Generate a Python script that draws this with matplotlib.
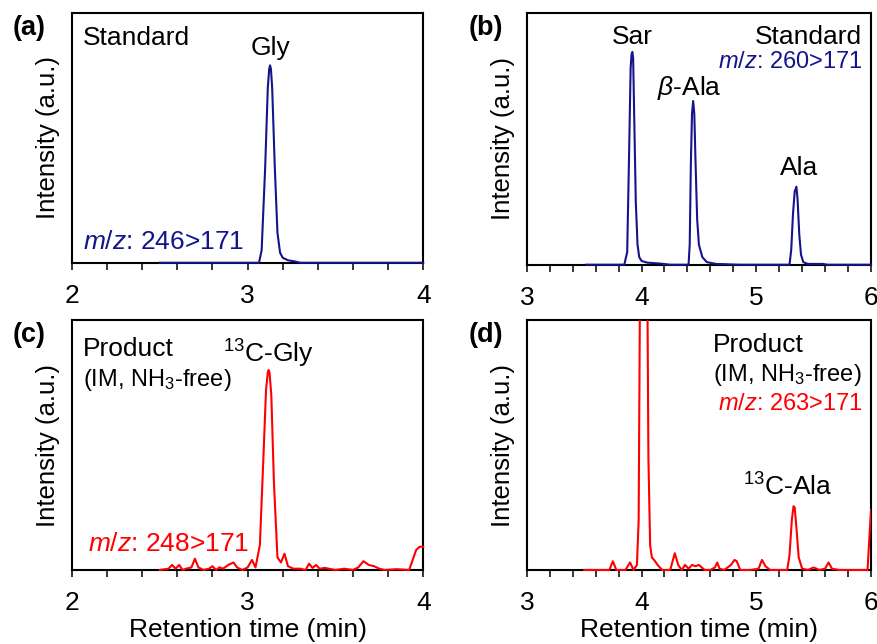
"""
LC-MS/MS chromatograms: standards vs. 13C product
"""
import matplotlib
matplotlib.use("Agg")
import matplotlib.pyplot as plt
from matplotlib.patches import Rectangle

plt.rcParams["font.family"] = ["Liberation Sans", "DejaVu Sans"]
plt.rcParams["mathtext.fontset"] = "custom"
plt.rcParams["mathtext.rm"] = "Liberation Sans"
plt.rcParams["mathtext.it"] = "Liberation Sans:italic"

BLUE = "#14148c"
RED = "#ff0000"

# (a) standard, m/z 246>171
a_time = [2.50, 3.00, 3.065, 3.08, 3.10, 3.115, 3.123, 3.128, 3.133, 3.14, 3.155,
          3.17, 3.185, 3.20, 3.23, 3.27, 3.30, 4.00]
a_signal = [0.0, 0.0, 0.0, 0.05, 0.38, 0.70, 0.775, 0.79, 0.775, 0.70, 0.38,
            0.12, 0.04, 0.02, 0.01, 0.005, 0.0, 0.0]

# (b) standard, m/z 260>171
b_time = [3.52, 3.85, 3.875, 3.89, 3.905, 3.913, 3.92, 3.927, 3.935, 3.95, 3.965,
          3.98, 4.00, 4.05, 4.15, 4.25, 4.41, 4.42, 4.43, 4.44, 4.45, 4.46, 4.47,
          4.485, 4.50, 4.53, 4.57, 4.65, 4.85, 5.29, 5.305, 5.32, 5.335, 5.35,
          5.36, 5.375, 5.39, 5.41, 5.45, 5.58, 5.62, 6.00]
b_signal = [0.0, 0.0, 0.05, 0.40, 0.78, 0.835, 0.845, 0.82, 0.62, 0.25, 0.08,
            0.03, 0.015, 0.008, 0.005, 0.0, 0.0, 0.08, 0.40, 0.60, 0.65, 0.60,
            0.42, 0.18, 0.08, 0.03, 0.01, 0.003, 0.0, 0.0, 0.06, 0.20, 0.29,
            0.31, 0.26, 0.12, 0.04, 0.01, 0.003, 0.003, 0.0, 0.0]

# (c) product, m/z 248>171
c_time = [2.50, 2.55, 2.57, 2.59, 2.61, 2.63, 2.65, 2.68, 2.70, 2.72, 2.75,
          2.78, 2.80, 2.82, 2.84, 2.86, 2.89, 2.92, 2.94, 2.97, 3.00, 3.025,
          3.045, 3.07, 3.09, 3.105, 3.115, 3.12, 3.125, 3.135, 3.15, 3.17, 3.19,
          3.21, 3.23, 3.26, 3.30, 3.33, 3.35, 3.37, 3.39, 3.41, 3.44, 3.50, 3.55,
          3.60, 3.63, 3.66, 3.69, 3.72, 3.75, 3.78, 3.85, 3.92, 3.94, 3.96, 3.98,
          4.00]
c_signal = [0.0, 0.005, 0.02, 0.005, 0.02, 0.0, 0.005, 0.01, 0.045, 0.01, 0.0,
            0.005, 0.015, 0.0, 0.01, 0.005, 0.02, 0.03, 0.01, 0.0, 0.01, 0.04,
            0.01, 0.10, 0.45, 0.72, 0.79, 0.80, 0.79, 0.70, 0.35, 0.05, 0.03,
            0.065, 0.015, 0.005, 0.005, 0.0, 0.025, 0.008, 0.02, 0.005, 0.008,
            0.0, 0.005, 0.0, 0.01, 0.035, 0.02, 0.015, 0.005, 0.0, 0.003, 0.0,
            0.04, 0.08, 0.093, 0.093]

# (d) product, m/z 263>171
d_time = [3.50, 3.72, 3.75, 3.78, 3.86, 3.90, 3.93, 3.96, 3.975, 3.985, 3.995,
          4.02, 4.04, 4.05, 4.06, 4.075, 4.09, 4.11, 4.14, 4.18, 4.25, 4.29,
          4.32, 4.35, 4.38, 4.41, 4.44, 4.47, 4.50, 4.55, 4.60, 4.64, 4.66,
          4.68, 4.72, 4.78, 4.81, 4.83, 4.86, 4.95, 5.02, 5.05, 5.08, 5.12,
          5.20, 5.27, 5.29, 5.31, 5.325, 5.335, 5.35, 5.37, 5.40, 5.45, 5.50,
          5.55, 5.60, 5.63, 5.66, 5.72, 5.90, 5.97, 5.985, 6.00]
d_signal = [0.0, 0.0, 0.035, 0.0, 0.0, 0.03, 0.0, 0.02, 0.2, 1.0, 2.0,
            2.3, 2.0, 1.2, 0.45, 0.1, 0.05, 0.04, 0.02, 0.0, 0.0, 0.067,
            0.02, 0.0, 0.02, 0.005, 0.02, 0.015, 0.02, 0.0, 0.0, 0.01, 0.03,
            0.005, 0.0, 0.02, 0.04, 0.035, 0.0, 0.0, 0.005, 0.04, 0.015, 0.0,
            0.0, 0.0, 0.06, 0.20, 0.255, 0.25, 0.17, 0.05, 0.005, 0.0, 0.01,
            0.0, 0.005, 0.03, 0.005, 0.0, 0.0, 0.0, 0.12, 0.24]

fig = plt.figure(figsize=(8.78, 6.44), dpi=100)
ax_a = fig.add_axes([0.082, 0.592, 0.400, 0.388])
ax_b = fig.add_axes([0.600, 0.589, 0.392, 0.391])
ax_c = fig.add_axes([0.082, 0.115, 0.400, 0.388])
ax_d = fig.add_axes([0.600, 0.115, 0.392, 0.388])

FS = 19


def style(ax, xmin, xmax, major):
    ax.set_xlim(xmin, xmax)
    ax.set_ylim(0, 1)
    ax.set_yticks([])
    ax.set_xticks(major)
    ax.set_xticks([xmin + 0.2 * i for i in range(int(round((xmax - xmin) / 0.2)) + 1)],
                  minor=True)
    ax.set_xticklabels([str(m) for m in major])
    for sp in ax.spines.values():
        sp.set_linewidth(1.5)
    ax.tick_params(axis="x", which="both", direction="out", length=5, width=1.1,
                   labelsize=FS, pad=10)
    ax.set_ylabel("Intensity (a.u.)", fontsize=18.5)


style(ax_a, 2, 4, [2, 3, 4])
style(ax_b, 3, 6, [3, 4, 5, 6])
style(ax_c, 2, 4, [2, 3, 4])
style(ax_d, 3, 6, [3, 4, 5, 6])
ax_a.yaxis.set_label_coords(-0.034, 0.5)
ax_c.yaxis.set_label_coords(-0.034, 0.5)
ax_b.yaxis.set_label_coords(-0.035, 0.5)
ax_d.yaxis.set_label_coords(-0.035, 0.5)
ax_c.set_xlabel("Retention time (min)", fontsize=FS, labelpad=2)
ax_d.set_xlabel("Retention time (min)", fontsize=FS, labelpad=2)

ax_a.plot(a_time, a_signal, color=BLUE, lw=1.5, clip_on=False, zorder=3)
ax_b.plot(b_time, b_signal, color=BLUE, lw=1.5, clip_on=False, zorder=3)
ax_c.plot(c_time, c_signal, color=RED, lw=1.5, clip_on=False, zorder=3)
line_d, = ax_d.plot(d_time, d_signal, color=RED, lw=1.5, zorder=3)
line_d.set_clip_path(Rectangle((0, -0.05), 1, 1.05, transform=ax_d.transAxes))

# panel letters
for ax, lab in [(ax_a, "a"), (ax_b, "b"), (ax_c, "c"), (ax_d, "d")]:
    ax.text(-0.17, 0.94, "(" + lab + ")", transform=ax.transAxes, fontsize=19.5,
            fontweight="bold", ha="left", va="center")

# (a)
ax_a.text(0.03, 0.90, "Standard", transform=ax_a.transAxes, fontsize=FS, va="center")
ax_a.text(3.13, 0.86, "Gly", fontsize=FS, ha="center", va="center")
ax_a.text(0.03, 0.085, "$m/z$: 246>171", transform=ax_a.transAxes, fontsize=FS,
          color=BLUE, va="center")

# (b)
ax_b.text(0.975, 0.905, "Standard", transform=ax_b.transAxes, fontsize=FS,
          ha="right", va="center")
ax_b.text(0.975, 0.805, "$m/z$: 260>171", transform=ax_b.transAxes, fontsize=17,
          color=BLUE, ha="right", va="center")
ax_b.text(3.92, 0.905, "Sar", fontsize=FS, ha="center", va="center")
ax_b.text(4.42, 0.70, r"$\beta$-Ala", fontsize=FS, ha="center", va="center")
ax_b.text(5.37, 0.385, "Ala", fontsize=FS, ha="center", va="center")

# (c)
ax_c.text(0.03, 0.885, "Product", transform=ax_c.transAxes, fontsize=FS, va="center")
ax_c.text(0.03, 0.76, "(IM, NH$_3$-free)", transform=ax_c.transAxes, fontsize=17,
          va="center")
ax_c.text(3.12, 0.865, "$^{13}$C-Gly", fontsize=FS, ha="center", va="center")
ax_c.text(0.045, 0.105, "$m/z$: 248>171", transform=ax_c.transAxes, fontsize=FS,
          color=RED, va="center")

# (d)
ax_d.text(0.54, 0.90, "Product", transform=ax_d.transAxes, fontsize=FS, va="center")
ax_d.text(0.54, 0.78, "(IM, NH$_3$-free)", transform=ax_d.transAxes, fontsize=17,
          va="center")
ax_d.text(0.975, 0.665, "$m/z$: 263>171", transform=ax_d.transAxes, fontsize=17,
          color=RED, ha="right", va="center")
ax_d.text(5.27, 0.33, "$^{13}$C-Ala", fontsize=FS, ha="center", va="center")

fig.savefig("out.png", dpi=100)
